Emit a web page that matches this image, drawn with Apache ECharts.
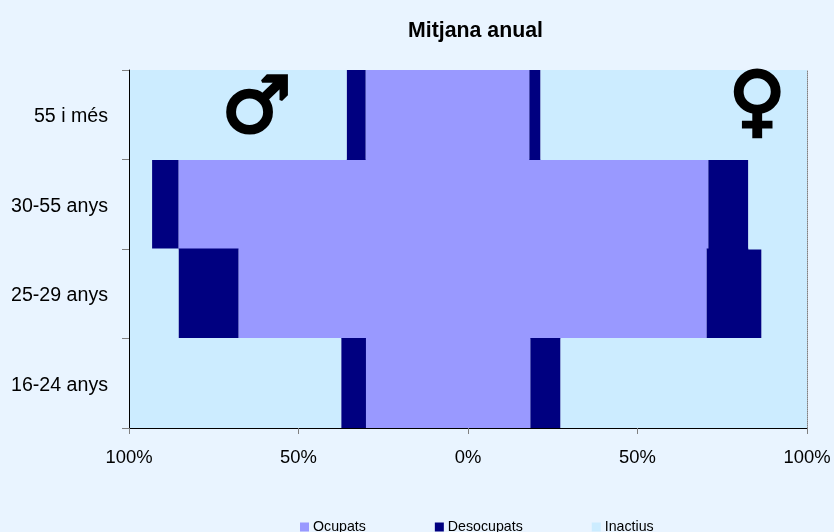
<!DOCTYPE html>
<html>
<head>
<meta charset="utf-8">
<style>html,body{margin:0;padding:0;background:#E9F4FF}#c{width:834px;height:532px}</style>
<script src="https://cdn.jsdelivr.net/npm/echarts@6/dist/echarts.min.js"></script>
</head>
<body>
<div id="c"></div>
<script>
const categories = ['16-24 anys', '25-29 anys', '30-55 anys', '55 i més'];
const menOcupats = [30.1, 67.7, 85.4, 30.2];
const menDesocupats = [7.3, 17.7, 7.8, 5.6];
const menInactius = [62.6, 14.6, 6.8, 64.2];
const womenOcupats = [18.4, 70.4, 70.9, 18.1];
const womenDesocupats = [8.9, 16.2, 11.8, 3.3];
const womenInactius = [72.7, 13.4, 17.3, 78.6];
const colors = { Ocupats: '#9999FF', Desocupats: '#000080', Inactius: '#CCECFF' };
const neg = a => a.map(v => -v);
const bar = (name, data) => ({
  name, type: 'bar', stack: 'all', data, barCategoryGap: 0, barWidth: '101%',
  itemStyle: { color: colors[name] },
  emphasis: { disabled: true }, animation: false
});
const chart = echarts.init(document.getElementById('c'), null, { renderer: 'canvas' });
const font = '"Liberation Sans", Arial, sans-serif';
chart.setOption({
  backgroundColor: '#E9F4FF',
  animation: false,
  title: { text: 'Mitjana anual', left: 470.5, top: 16, textAlign: 'center',
    textStyle: { fontFamily: font, fontSize: 21.3, fontWeight: 'bold', color: '#000' } },
  legend: { left: 295, top: 515, itemWidth: 9, itemHeight: 9, itemGap: 69,
    data: ['Ocupats', 'Desocupats', 'Inactius'], icon: 'rect',
    textStyle: { fontFamily: font, fontSize: 14.2, color: '#000', padding: [0, 0, 0, -1] } },
  grid: { left: 129, right: 27, top: 70, bottom: 104, containLabel: false, outerBoundsMode: 'none' },
  xAxis: { type: 'value', min: -100, max: 100, interval: 50, position: 'bottom', z: 10,
    axisLine: { show: true, onZero: false, lineStyle: { color: '#000', width: 1 } },
    axisTick: { show: true, length: 6, lineStyle: { color: '#808080' } },
    splitLine: { show: false },
    axisLabel: { margin: 21, fontFamily: font, fontSize: 18.4, color: '#000', hideOverlap: false,
      formatter: v => Math.abs(v) + '%' } },
  yAxis: [
    { type: 'category', data: categories, position: 'left', z: 10,
      axisLine: { show: true, onZero: false, lineStyle: { color: '#000', width: 1 } },
      axisTick: { show: true, length: 7, lineStyle: { color: '#808080' } },
      splitLine: { show: false },
      axisLabel: { margin: 21, color: '#000', formatter: v => '{a|' + v + '}',
        rich: { a: { fontFamily: font, fontSize: 19.6, color: '#000', padding: [4, 0, 0, 0] } } } },
    { type: 'category', data: categories, position: 'right', z: 10,
      axisLine: { show: true, onZero: false, lineStyle: { color: '#808080', width: 1, type: 'dotted' } },
      axisTick: { show: false }, axisLabel: { show: false }, splitLine: { show: false } }
  ],
  series: [
    bar('Ocupats', neg(menOcupats)),
    bar('Desocupats', neg(menDesocupats)),
    bar('Inactius', neg(menInactius)),
    bar('Ocupats', womenOcupats),
    bar('Desocupats', womenDesocupats),
    bar('Inactius', womenInactius)
  ],
  graphic: [
    { type: 'text', left: 220, top: 71, z: 100, style: { text: '♂', fontFamily: 'DejaVu Sans', fontWeight: 'bold', fontSize: 78, fill: '#000', stroke: '#000', lineWidth: 3 } },
    { type: 'text', left: 727, top: 66, z: 100, style: { text: '♀', fontFamily: 'DejaVu Sans', fontWeight: 'bold', fontSize: 78, fill: '#000', stroke: '#000', lineWidth: 3 } }
  ]
});
</script>
</body>
</html>
